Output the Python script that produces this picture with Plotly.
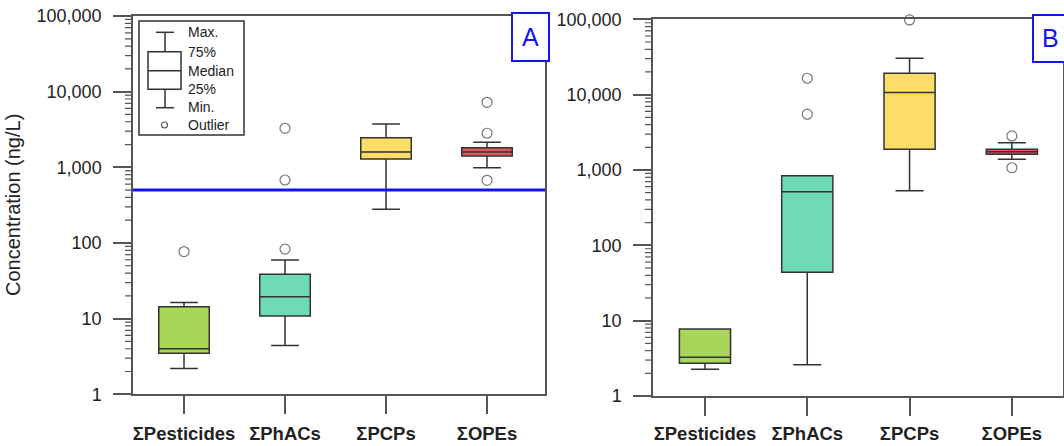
import plotly.graph_objects as go

W, H = 1064, 446

categories = ["ΣPesticides", "ΣPhACs", "ΣPCPs", "ΣOPEs"]
colors = ["#A9D65A", "#6FDBB6", "#FCDD68", "#E0585A"]

# Panel A
a_min = [2.2, 4.4, 280, 990]
a_q1 = [3.5, 10.8, 1290, 1410]
a_median = [4.0, 19.5, 1590, 1590]
a_q3 = [14.4, 38.5, 2460, 1820]
a_max = [16.4, 59.6, 3740, 2140]
a_outliers = [[77], [83, 680, 3280], [], [674, 2820, 7230]]
threshold_a = 500

# Panel B
b_min = [2.26, 2.6, 530, 1390]
b_q1 = [2.72, 44, 1880, 1620]
b_median = [3.27, 515, 10700, 1740]
b_q3 = [7.75, 840, 19200, 1890]
b_max = [7.75, 840, 30300, 2290]
b_outliers = [[], [5500, 16500], [98000], [1070, 2830]]

y_tickvals = [1, 10, 100, 1000, 10000, 100000]
y_ticktext = ["1", "10", "100", "1,000", "10,000", "100,000"]
y_minor = [k * 10 ** n for n in range(5) for k in range(2, 10)]

FONT = "Liberation Sans, Arial, sans-serif"
AXC = "#555555"
BLUE = "#1414F0"

def X(px):
    return px / W

def Y(py):
    return 1 - py / H

fig = go.Figure()

panels = [
    ("x", "y", a_min, a_q1, a_median, a_q3, a_max, a_outliers),
    ("x2", "y2", b_min, b_q1, b_median, b_q3, b_max, b_outliers),
]
for xa, ya, mn, q1, md, q3, mx, outl in panels:
    for i, cat in enumerate(categories):
        fig.add_trace(go.Box(
            x=[cat], q1=[q1[i]], median=[md[i]], q3=[q3[i]],
            lowerfence=[mn[i]], upperfence=[mx[i]],
            fillcolor=colors[i], line=dict(color="#333333", width=1.5),
            width=0.5, whiskerwidth=0.55, boxpoints=False,
            xaxis=xa, yaxis=ya, showlegend=False, hoverinfo="skip"))
        if outl[i]:
            fig.add_trace(go.Scatter(
                x=[cat] * len(outl[i]), y=outl[i], mode="markers",
                marker=dict(symbol="circle-open", size=10, color="#777777",
                            line=dict(width=1.2, color="#777777")),
                xaxis=xa, yaxis=ya, showlegend=False, cliponaxis=False,
                hoverinfo="skip"))

xcommon = dict(type="category", categoryorder="array", categoryarray=categories,
               showline=True, linecolor=AXC, linewidth=1.5, mirror=True,
               ticks="outside", ticklen=18, tickwidth=1.5, tickcolor=AXC,
               showgrid=False, zeroline=False, automargin=False,
               tickfont=dict(family=FONT, size=18.5, color="#222222", weight="bold"))
ycommon = dict(type="log", range=[0, 5], showline=True, linecolor=AXC, linewidth=1.5,
               mirror=True, ticks="outside", ticklen=18, tickwidth=1.5, tickcolor=AXC,
               tickmode="array", tickvals=y_tickvals, ticktext=y_ticktext,
               showgrid=False, zeroline=False, ticklabelstandoff=8, automargin=False,
               tickfont=dict(family=FONT, size=18, color="#222222"))

fig.update_layout(
    width=W, height=H, autosize=False,
    margin=dict(l=0, r=0, t=0, b=0, pad=0, autoexpand=False),
    paper_bgcolor="white", plot_bgcolor="white", showlegend=False,
    boxmode="overlay",
    xaxis=dict(domain=[X(133), X(545)], anchor="y", range=[-0.505, 3.574],
               ticklabelstandoff=4, **xcommon),
    yaxis=dict(domain=[Y(394.3), Y(16)], anchor="x", **ycommon),
    xaxis2=dict(domain=[X(653), X(1063)], anchor="y2", range=[-0.508, 3.5],
                ticklabelstandoff=2, **xcommon),
    yaxis2=dict(domain=[Y(396), Y(19.3)], anchor="x2", **ycommon),
)

shapes = []
annotations = []

# minor log ticks on both y axes (outside, left of the axis line)
for xr, yr in [("x domain", "y"), ("x2 domain", "y2")]:
    for v in y_minor:
        shapes.append(dict(type="line", xref=xr, yref=yr, xsizemode="pixel", xanchor=0,
                           x0=-8, x1=0, y0=v, y1=v,
                           line=dict(color=AXC, width=1.2)))

# threshold line in panel A
shapes.append(dict(type="line", xref="x domain", yref="y", x0=0, x1=1,
                   y0=threshold_a, y1=threshold_a, line=dict(color=BLUE, width=3)))

# panel labels
for label, x0, x1, y0, y1 in [("A", 512, 549, 13, 61), ("B", 1033, 1072, 15, 62)]:
    shapes.append(dict(type="rect", xref="paper", yref="paper",
                       x0=X(x0), x1=X(x1), y0=Y(y1), y1=Y(y0),
                       line=dict(color=BLUE, width=2), fillcolor="white", layer="above"))
    annotations.append(dict(text=label, xref="paper", yref="paper",
                            x=X((x0 + min(x1, 1068)) / 2), y=Y((y0 + y1) / 2),
                            showarrow=False, xanchor="center", yanchor="middle",
                            font=dict(family=FONT, size=25, color=BLUE)))

# box-plot key in panel A
LC = "#333333"
def pline(x0, y0, x1, y1, w=1.5):
    shapes.append(dict(type="line", xref="paper", yref="paper",
                       x0=X(x0), y0=Y(y0), x1=X(x1), y1=Y(y1),
                       line=dict(color=LC, width=w)))

shapes.append(dict(type="rect", xref="paper", yref="paper",
                   x0=X(139), x1=X(244), y0=Y(135), y1=Y(21),
                   line=dict(color=LC, width=1.5), fillcolor="white"))
pline(156, 32.3, 174, 32.3)
pline(165, 32.3, 165, 51.7)
shapes.append(dict(type="rect", xref="paper", yref="paper",
                   x0=X(148), x1=X(181), y0=Y(89.3), y1=Y(51.7),
                   line=dict(color=LC, width=1.5), fillcolor="white"))
pline(148, 70.7, 181, 70.7)
pline(165, 89.3, 165, 107.7)
pline(156, 107.7, 174, 107.7)
shapes.append(dict(type="circle", xref="paper", yref="paper",
                   x0=X(161.5), x1=X(167.5), y0=Y(128), y1=Y(122),
                   line=dict(color="#555555", width=1.2)))
for txt, yy in [("Max.", 32), ("75%", 52), ("Median", 71), ("25%", 89),
                ("Min.", 107.5), ("Outlier", 125)]:
    annotations.append(dict(text=txt, xref="paper", yref="paper", x=X(186), y=Y(yy),
                            showarrow=False, xanchor="left", yanchor="middle",
                            font=dict(family=FONT, size=14, color="#222222")))

# y-axis title
annotations.append(dict(text="Concentration (ng/L)", xref="paper", yref="paper",
                        x=X(13), y=Y(205), textangle=-90, showarrow=False,
                        xanchor="center", yanchor="middle",
                        font=dict(family=FONT, size=20, color="#222222")))

fig.update_layout(shapes=shapes, annotations=annotations)
fig.write_html("out.html")
